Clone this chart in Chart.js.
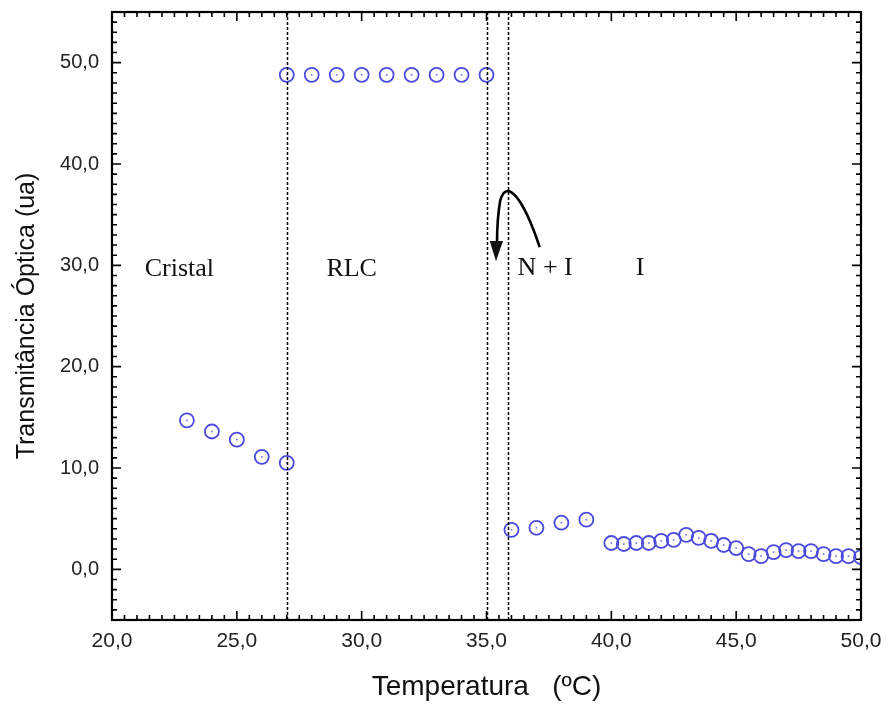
<!DOCTYPE html>
<html>
<head>
<meta charset="utf-8">
<script src="https://cdn.jsdelivr.net/npm/chart.js@4.4.1/dist/chart.umd.min.js"></script>
<style>
  html, body { margin: 0; padding: 0; background: #fff; }
  #wrap { width: 887px; height: 709px; }
</style>
</head>
<body>
<div id="wrap"><canvas id="myChart" width="887" height="709"></canvas></div>
<script>
// temperatura (ºC) e transmitância óptica (ua)
var cristalT = [23, 24, 25, 26, 27];
var cristalV = [14.7, 13.6, 12.8, 11.1, 10.5];
var rlcT = [27, 28, 29, 30, 31, 32, 33, 34, 35];
var rlcV = [48.8, 48.8, 48.8, 48.8, 48.8, 48.8, 48.8, 48.8, 48.8];
var isoT = [36, 37, 38, 39, 40, 40.5, 41, 41.5, 42, 42.5, 43, 43.5, 44, 44.5, 45, 45.5, 46, 46.5, 47, 47.5, 48, 48.5, 49, 49.5, 50];
var isoV = [3.9, 4.1, 4.6, 4.9, 2.6, 2.5, 2.6, 2.6, 2.8, 2.9, 3.4, 3.1, 2.8, 2.4, 2.1, 1.5, 1.3, 1.7, 1.9, 1.8, 1.8, 1.5, 1.3, 1.3, 1.2];

var transitionT = [27, 35, 35.85];
var xTicks = [20, 25, 30, 35, 40, 45, 50];
var yTicks = [0, 10, 20, 30, 40, 50];
var regionLabels = ['Cristal', 'RLC', 'N + I', 'I'];

function pts(xs, ys) {
    return xs.map(function(x, i) { return {x: x, y: ys[i]}; });
}
function fmt(v) {
    return Number(v).toFixed(1).replace('.', ',');
}

var markerStyle = {
    pointRadius: 7,
    pointHoverRadius: 7,
    pointBorderWidth: 1.8,
    pointBorderColor: '#4a4adc',
    pointBackgroundColor: 'rgba(0,0,0,0)',
    showLine: false,
    clip: 0
};

// molduras, marcas internas, linhas de transição, rótulos e seta
var decor = {
    id: 'decor',
    afterDatasetsDraw: function(chart) {
        var ctx = chart.ctx, xs = chart.scales.x, ys = chart.scales.y, a = chart.chartArea;
        ctx.save();

        chart.data.datasets.forEach(function(ds, i) {
            chart.getDatasetMeta(i).data.forEach(function(p) {
                ctx.fillStyle = '#7070d8';
                ctx.fillRect(p.x - 0.8, p.y - 0.8, 1.6, 1.6);
            });
        });

        ctx.strokeStyle = '#000';
        ctx.lineWidth = 1.5;
        ctx.setLineDash([3, 2]);
        transitionT.forEach(function(t) {
            var px = Math.round(xs.getPixelForValue(t)) + 0.5;
            ctx.beginPath();
            ctx.moveTo(px, a.top);
            ctx.lineTo(px, a.bottom);
            ctx.stroke();
        });
        ctx.setLineDash([]);

        ctx.lineWidth = 1.6;
        var v, px, len;
        for (v = xs.min; v <= xs.max + 1e-9; v += 0.5) {
            px = xs.getPixelForValue(v);
            len = (Math.abs(v % 5) < 1e-9) ? 9 : 5;
            ctx.beginPath();
            ctx.moveTo(px, a.bottom); ctx.lineTo(px, a.bottom - len);
            ctx.moveTo(px, a.top); ctx.lineTo(px, a.top + len);
            ctx.stroke();
        }
        for (v = ys.min; v <= ys.max + 1e-9; v += 1) {
            px = ys.getPixelForValue(v);
            len = (Math.abs(v % 10) < 1e-9) ? 9 : 5;
            ctx.beginPath();
            ctx.moveTo(a.left, px); ctx.lineTo(a.left + len, px);
            ctx.moveTo(a.right, px); ctx.lineTo(a.right - len, px);
            ctx.stroke();
        }
        ctx.lineWidth = 2.2;
        ctx.strokeRect(a.left, a.top, a.right - a.left, a.bottom - a.top);

        ctx.fillStyle = '#111';
        ctx.font = '26px "Liberation Serif", "Times New Roman", serif';
        ctx.textAlign = 'center';
        ctx.textBaseline = 'alphabetic';
        var labelPos = [[22.7, 28.9], [29.6, 28.9], [37.35, 29.0], [41.15, 29.0]];
        regionLabels.forEach(function(txt, i) {
            ctx.fillText(txt, xs.getPixelForValue(labelPos[i][0]), ys.getPixelForValue(labelPos[i][1]));
        });

        function P(x, y) { return [xs.getPixelForValue(x), ys.getPixelForValue(y)]; }
        var s = P(37.13, 31.8), c1 = P(36.45, 36.8), c2 = P(35.8, 38.6), m = P(35.55, 36.4);
        var c3 = P(35.42, 34.6), e = P(35.42, 32.0);
        ctx.lineWidth = 2.6;
        ctx.beginPath();
        ctx.moveTo(s[0], s[1]);
        ctx.bezierCurveTo(c1[0], c1[1], c2[0], c2[1], m[0], m[1]);
        ctx.quadraticCurveTo(c3[0], c3[1], e[0], e[1]);
        ctx.stroke();
        var tip = P(35.38, 30.4), bl = P(35.13, 32.4), br = P(35.66, 32.4);
        ctx.beginPath();
        ctx.moveTo(tip[0], tip[1]);
        ctx.lineTo(bl[0], bl[1]);
        ctx.lineTo(br[0], br[1]);
        ctx.closePath();
        ctx.fill();

        ctx.restore();
    }
};

var ctx = document.getElementById('myChart').getContext('2d');
var myChart = new Chart(ctx, {
    type: 'scatter',
    data: {
        datasets: [
            Object.assign({label: 'Cristal', data: pts(cristalT, cristalV)}, markerStyle),
            Object.assign({label: 'RLC', data: pts(rlcT, rlcV)}, markerStyle),
            Object.assign({label: 'N + I / I', data: pts(isoT, isoV)}, markerStyle)
        ]
    },
    options: {
        responsive: false,
        animation: false,
        events: [],
        layout: {
            padding: {left: 0, top: 12, right: 26, bottom: 0}
        },
        plugins: {
            legend: {display: false},
            tooltip: {enabled: false}
        },
        scales: {
            x: {
                type: 'linear',
                min: 20,
                max: 50,
                afterBuildTicks: function(scale) {
                    scale.ticks = xTicks.map(function(v) { return {value: v}; });
                },
                afterFit: function(scale) {
                    scale.height = 89;
                    scale.paddingLeft = 0;
                    scale.paddingRight = 0;
                },
                grid: {display: false, drawTicks: false},
                border: {display: false},
                ticks: {
                    padding: 9,
                    color: '#222',
                    maxRotation: 0,
                    font: {family: '"Liberation Sans", Arial, sans-serif', size: 21},
                    callback: function(v) { return fmt(v); }
                },
                title: {
                    display: true,
                    text: 'Temperatura   (ºC)',
                    color: '#111',
                    padding: {top: 0, bottom: 5},
                    font: {family: '"Liberation Sans", Arial, sans-serif', size: 28}
                }
            },
            y: {
                type: 'linear',
                min: -5,
                max: 55,
                afterBuildTicks: function(scale) {
                    scale.ticks = yTicks.map(function(v) { return {value: v}; });
                },
                afterFit: function(scale) {
                    scale.width = 112;
                    scale.paddingTop = 0;
                    scale.paddingBottom = 0;
                },
                grid: {display: false, drawTicks: false},
                border: {display: false},
                ticks: {
                    padding: 13,
                    color: '#222',
                    font: {family: '"Liberation Sans", Arial, sans-serif', size: 20},
                    callback: function(v) { return fmt(v); }
                },
                title: {
                    display: true,
                    text: 'Transmitância Óptica (ua)',
                    color: '#111',
                    padding: {top: 12, bottom: 0},
                    font: {family: '"Liberation Sans", Arial, sans-serif', size: 25}
                }
            }
        }
    },
    plugins: [decor]
});
</script>
</body>
</html>
